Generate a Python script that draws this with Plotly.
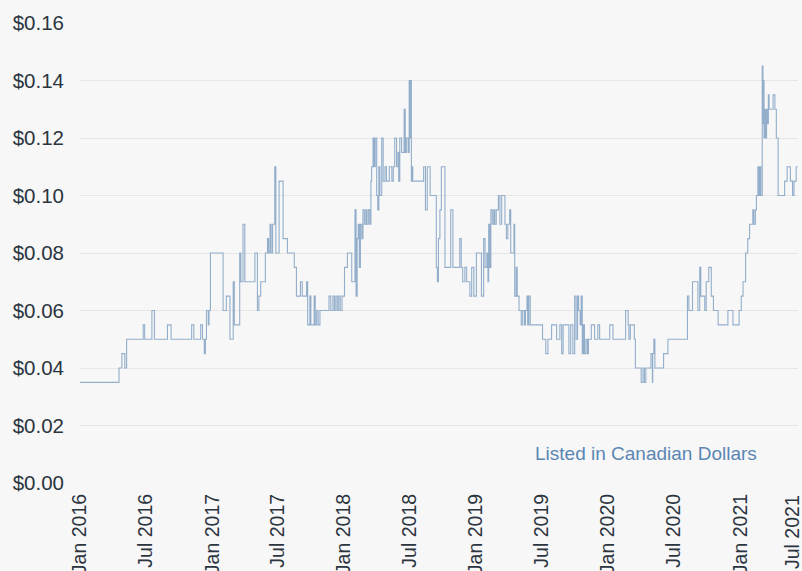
import plotly.graph_objects as go

# Step change points of the share price (CAD)
dates = [
    "2016-01-01", "2016-04-18", "2016-04-26", "2016-05-04", "2016-05-09", "2016-06-24", "2016-06-28",
    "2016-07-18", "2016-07-25", "2016-08-30", "2016-09-09", "2016-11-05", "2016-11-11", "2016-11-30",
    "2016-12-05", "2016-12-10", "2016-12-13", "2016-12-16", "2016-12-21", "2016-12-23", "2016-12-27",
    "2017-01-31", "2017-02-09", "2017-02-19", "2017-02-28", "2017-03-03", "2017-03-18", "2017-03-21",
    "2017-03-27", "2017-04-01", "2017-04-29", "2017-05-06", "2017-05-10", "2017-05-15", "2017-05-28",
    "2017-06-03", "2017-06-06", "2017-06-10", "2017-06-13", "2017-06-17", "2017-06-23", "2017-06-26",
    "2017-07-05", "2017-07-16", "2017-07-28", "2017-08-16", "2017-08-22", "2017-09-02", "2017-09-07",
    "2017-09-19", "2017-09-22", "2017-09-28", "2017-10-01", "2017-10-10", "2017-10-13", "2017-10-17",
    "2017-10-21", "2017-10-26", "2017-11-01", "2017-11-20", "2017-11-25", "2017-12-01", "2017-12-05",
    "2017-12-09", "2017-12-13", "2017-12-17", "2017-12-21", "2017-12-26",
    "2018-01-02", "2018-01-10", "2018-01-22", "2018-01-31", "2018-02-03", "2018-02-06", "2018-02-09",
    "2018-02-12", "2018-02-15", "2018-02-19", "2018-02-22", "2018-02-26", "2018-03-02", "2018-03-05",
    "2018-03-09", "2018-03-13", "2018-03-16", "2018-03-18", "2018-03-22", "2018-03-25", "2018-03-28",
    "2018-04-01", "2018-04-04", "2018-04-07", "2018-04-10", "2018-04-15", "2018-04-19", "2018-04-24",
    "2018-04-28", "2018-05-06", "2018-05-13", "2018-05-17", "2018-05-21", "2018-05-26", "2018-05-30",
    "2018-06-01", "2018-06-04", "2018-06-09", "2018-06-16", "2018-06-19", "2018-06-22", "2018-06-27",
    "2018-06-30", "2018-07-02", "2018-07-04", "2018-07-06", "2018-07-08", "2018-07-10", "2018-08-09",
    "2018-08-14", "2018-08-19", "2018-08-27", "2018-09-13", "2018-09-16", "2018-09-19", "2018-09-23",
    "2018-09-27", "2018-10-07", "2018-10-23", "2018-10-29", "2018-11-17", "2018-11-21", "2018-11-25",
    "2018-12-01", "2018-12-06", "2018-12-15", "2018-12-20", "2018-12-26",
    "2019-01-02", "2019-01-16", "2019-01-22", "2019-01-26", "2019-01-31", "2019-02-03", "2019-02-05",
    "2019-02-08", "2019-02-11", "2019-02-15", "2019-02-19", "2019-02-22", "2019-02-26", "2019-03-04",
    "2019-03-08", "2019-03-13", "2019-03-22", "2019-03-26", "2019-03-30", "2019-04-04", "2019-04-07",
    "2019-04-16", "2019-04-18", "2019-04-22", "2019-04-25", "2019-04-30", "2019-05-06", "2019-05-10",
    "2019-05-15", "2019-05-18", "2019-05-22", "2019-05-24", "2019-05-27", "2019-05-31", "2019-07-04",
    "2019-07-13", "2019-07-19", "2019-07-29", "2019-08-12", "2019-08-21", "2019-08-26", "2019-08-30",
    "2019-09-15", "2019-09-20", "2019-09-26", "2019-10-01", "2019-10-05", "2019-10-09", "2019-10-12",
    "2019-10-16", "2019-10-19", "2019-10-22", "2019-10-25", "2019-10-28", "2019-11-01", "2019-11-05",
    "2019-11-08", "2019-11-16", "2019-11-25", "2019-12-04", "2019-12-09",
    "2020-01-06", "2020-01-15", "2020-02-19", "2020-02-26", "2020-02-28", "2020-03-03", "2020-03-14",
    "2020-03-17", "2020-04-02", "2020-04-07", "2020-04-11", "2020-04-15", "2020-04-29", "2020-05-03",
    "2020-05-04", "2020-05-07", "2020-05-10", "2020-06-03", "2020-06-15", "2020-08-08", "2020-08-12",
    "2020-08-22", "2020-09-06", "2020-09-11", "2020-09-14", "2020-09-25", "2020-09-29", "2020-10-06",
    "2020-10-13", "2020-10-19", "2020-11-01", "2020-11-28", "2020-12-12", "2020-12-29",
    "2021-01-04", "2021-01-09", "2021-01-16", "2021-01-22", "2021-01-27", "2021-02-05", "2021-02-08",
    "2021-02-12", "2021-02-15", "2021-02-19", "2021-02-22", "2021-02-25", "2021-02-27", "2021-03-03",
    "2021-03-05", "2021-03-07", "2021-03-08", "2021-03-10", "2021-03-12", "2021-03-15", "2021-03-17",
    "2021-03-20", "2021-03-22", "2021-04-02", "2021-04-07", "2021-04-11", "2021-04-16", "2021-05-04",
    "2021-05-11", "2021-05-20", "2021-05-26", "2021-05-30", "2021-06-05", "2021-06-09",
]

prices = [
    0.035, 0.040, 0.045, 0.040, 0.050, 0.055, 0.050,
    0.060, 0.050, 0.055, 0.050, 0.055, 0.050, 0.055,
    0.050, 0.045, 0.050, 0.060, 0.055, 0.060, 0.080,
    0.060, 0.065, 0.050, 0.070, 0.055, 0.080, 0.070,
    0.090, 0.070, 0.080, 0.060, 0.065, 0.070, 0.080,
    0.085, 0.080, 0.090, 0.080, 0.090, 0.110, 0.080,
    0.105, 0.085, 0.080, 0.075, 0.065, 0.070, 0.065,
    0.070, 0.055, 0.065, 0.055, 0.065, 0.055, 0.060,
    0.055, 0.060, 0.060, 0.065, 0.060, 0.065, 0.060,
    0.065, 0.060, 0.065, 0.060, 0.065,
    0.075, 0.080, 0.070, 0.095, 0.065, 0.085, 0.090,
    0.075, 0.090, 0.085, 0.095, 0.090, 0.095, 0.090,
    0.095, 0.090, 0.105, 0.110, 0.120, 0.110, 0.120,
    0.100, 0.095, 0.110, 0.100, 0.120, 0.105, 0.110,
    0.105, 0.110, 0.105, 0.110, 0.120, 0.110, 0.115,
    0.105, 0.120, 0.115, 0.130, 0.115, 0.120, 0.115,
    0.140, 0.120, 0.140, 0.105, 0.110, 0.105, 0.110,
    0.095, 0.110, 0.100, 0.075, 0.070, 0.085, 0.095,
    0.110, 0.075, 0.095, 0.075, 0.085, 0.075, 0.070,
    0.075, 0.070, 0.065, 0.075, 0.065,
    0.080, 0.065, 0.085, 0.075, 0.080, 0.070, 0.090,
    0.075, 0.095, 0.090, 0.095, 0.090, 0.095, 0.100,
    0.090, 0.100, 0.090, 0.085, 0.090, 0.095, 0.080,
    0.090, 0.065, 0.075, 0.065, 0.060, 0.055, 0.060,
    0.055, 0.060, 0.065, 0.055, 0.065, 0.055, 0.050,
    0.045, 0.050, 0.055, 0.050, 0.055, 0.045, 0.055,
    0.045, 0.055, 0.045, 0.065, 0.050, 0.065, 0.060,
    0.055, 0.065, 0.045, 0.055, 0.045, 0.050, 0.045,
    0.050, 0.055, 0.050, 0.055, 0.050,
    0.055, 0.050, 0.060, 0.055, 0.050, 0.055, 0.050,
    0.040, 0.035, 0.040, 0.035, 0.040, 0.045, 0.035,
    0.045, 0.050, 0.040, 0.045, 0.050, 0.065, 0.060,
    0.070, 0.060, 0.075, 0.065, 0.060, 0.070, 0.075,
    0.065, 0.060, 0.055, 0.060, 0.055, 0.060,
    0.065, 0.070, 0.080, 0.085, 0.090, 0.095, 0.090,
    0.095, 0.100, 0.110, 0.100, 0.110, 0.100, 0.145,
    0.125, 0.140, 0.120, 0.130, 0.120, 0.130, 0.125,
    0.135, 0.130, 0.135, 0.130, 0.120, 0.100, 0.105,
    0.110, 0.105, 0.100, 0.105, 0.110, 0.110,
]

x_ticks = ["2016-01-01", "2016-07-01", "2017-01-01", "2017-07-01", "2018-01-01", "2018-07-01",
           "2019-01-01", "2019-07-01", "2020-01-01", "2020-07-01", "2021-01-01"]
x_tick_labels = ["Jan 2016", "Jul 2016", "Jan 2017", "Jul 2017", "Jan 2018", "Jul 2018",
                 "Jan 2019", "Jul 2019", "Jan 2020", "Jul 2020", "Jan 2021"]
last_label = "Jul 2021"
y_ticks = [0.00, 0.02, 0.04, 0.06, 0.08, 0.10, 0.12, 0.14, 0.16]
y_tick_labels = ["$%.2f" % v for v in y_ticks]
note = "Listed in Canadian Dollars"

BG = "#f7f7f7"
FONT = "Liberation Sans, Arial, Helvetica, sans-serif"
TXT = "#2b3540"

fig = go.Figure()
fig.add_trace(go.Scatter(
    x=dates, y=prices, mode="lines", line_shape="hv",
    line=dict(color="#93aecb", width=1.1),
    hoverinfo="skip", showlegend=False,
))

fig.update_layout(
    width=802, height=571,
    paper_bgcolor=BG, plot_bgcolor=BG,
    margin=dict(l=80, r=4, t=23, b=88, autoexpand=False),
    font=dict(family=FONT, color=TXT),
    xaxis=dict(
        type="date", range=["2016-01-01", "2021-06-10"], automargin=False,
        tickvals=x_ticks, ticktext=x_tick_labels, tickangle=-90,
        tickfont=dict(size=19.5, color=TXT), showgrid=False, zeroline=False,
        showline=False, ticks="", ticklabelstandoff=6,
    ),
    yaxis=dict(
        range=[0, 0.16], tickvals=y_ticks, ticktext=y_tick_labels, automargin=False,
        tickfont=dict(size=20.5, color=TXT), showgrid=True, gridcolor="#e6e6e6",
        gridwidth=1, zeroline=False, showline=False, ticks="", ticklabelstandoff=15,
    ),
    annotations=[
        dict(text=note, xref="paper", yref="paper", x=0.945, y=0.065,
             xanchor="right", yanchor="middle", showarrow=False,
             font=dict(size=19, color="#5a86b4", family=FONT)),
        dict(text=last_label, xref="paper", yref="paper", x=1.0, y=0,
             xanchor="right", yanchor="top", yshift=-10, xshift=7, textangle=-90,
             showarrow=False, font=dict(size=19.5, color=TXT, family=FONT)),
    ],
)

fig.write_html("out.html", config={"displayModeBar": False, "staticPlot": True})

# remove the default page margin so the figure sits at the window's top-left corner
with open("out.html", "r", encoding="utf-8") as f:
    html = f.read()
html = html.replace("<head>", "<head><style>html,body{margin:0;padding:0;overflow:hidden;background:#f7f7f7;}</style>", 1)
with open("out.html", "w", encoding="utf-8") as f:
    f.write(html)
